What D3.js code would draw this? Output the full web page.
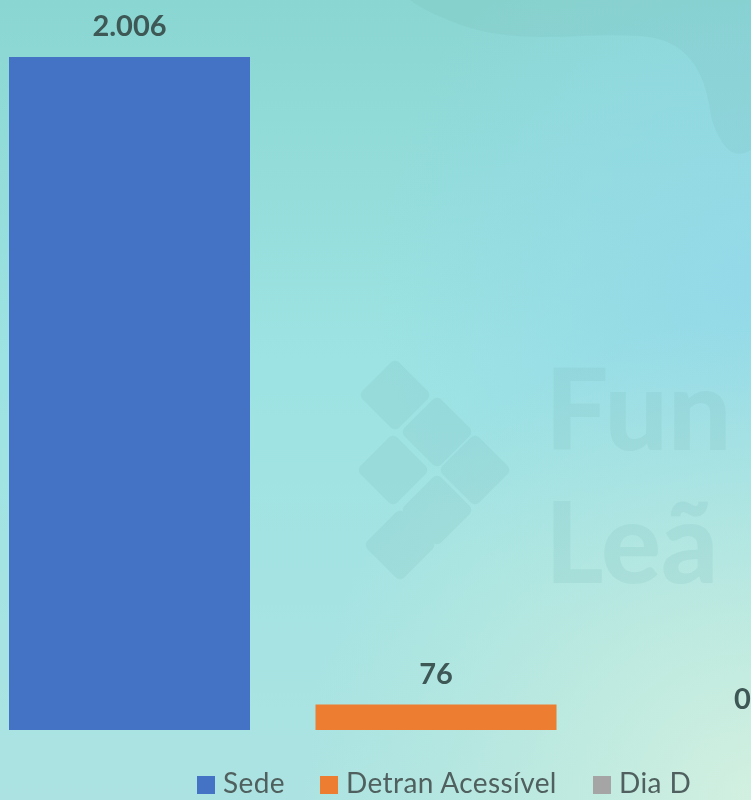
<!DOCTYPE html>
<html>
<head>
<meta charset="utf-8">
<script src="https://cdn.jsdelivr.net/npm/d3@7"></script>
<style>
  body { margin: 0; overflow: hidden; }
  svg { display: block; }
</style>
</head>
<body>
<svg id="chart" width="751" height="800"></svg>
<script>
// chart data
const categories = ["Sede", "Detran Acessível", "Dia D"];
const values = [2006, 76, 0];
const labels = ["2.006", "76", "0"];
const colors = ["#4472C4", "#ED7D31", "#A5A5A5"];

const svg = d3.select("#chart");
const width = 751, height = 800;

// background gradient
const defs = svg.append("defs");
const lg = defs.append("linearGradient").attr("id", "bg").attr("x1", 0).attr("y1", 0).attr("x2", 0).attr("y2", 1);
lg.append("stop").attr("offset", "0%").attr("stop-color", "#8ad6d2");
lg.append("stop").attr("offset", "45%").attr("stop-color", "#9de3e3");
lg.append("stop").attr("offset", "100%").attr("stop-color", "#ace3e2");
const rg = defs.append("radialGradient").attr("id", "glow")
  .attr("cx", 1).attr("cy", 1).attr("r", 0.6);
rg.append("stop").attr("offset", "0%").attr("stop-color", "#d2f0e0").attr("stop-opacity", 1);
rg.append("stop").attr("offset", "100%").attr("stop-color", "#c4ecdc").attr("stop-opacity", 0);
const rg2 = defs.append("radialGradient").attr("id", "blue")
  .attr("cx", 1).attr("cy", 0.35).attr("r", 0.5);
rg2.append("stop").attr("offset", "0%").attr("stop-color", "#93d9e8").attr("stop-opacity", 1);
rg2.append("stop").attr("offset", "100%").attr("stop-color", "#93d9e8").attr("stop-opacity", 0);

svg.append("rect").attr("width", width).attr("height", height).attr("fill", "url(#bg)");
svg.append("rect").attr("width", width).attr("height", height).attr("fill", "url(#blue)");
svg.append("rect").attr("width", width).attr("height", height).attr("fill", "url(#glow)");

// faint watermark
const wm = svg.append("g").attr("fill", "#7fbfbd").attr("opacity", 0.2);
[[395, 395], [437, 432], [393, 470], [475, 470], [437, 510], [400, 545]].forEach(function(p) {
  wm.append("rect").attr("x", -26).attr("y", -26).attr("width", 52).attr("height", 52).attr("rx", 6)
    .attr("transform", `translate(${p[0]},${p[1]}) rotate(45)`);
});
wm.append("text").attr("x", 545).attr("y", 450).text("Fun")
  .style("font-family", "Lato, sans-serif").style("font-weight", 900).style("font-size", "112px");
wm.append("text").attr("x", 545).attr("y", 583).text("Leã")
  .style("font-family", "Lato, sans-serif").style("font-weight", 900).style("font-size", "112px");
svg.append("path")
  .attr("d", "M410,0 L751,0 L751,150 C735,160 722,150 712,120 C706,80 695,40 640,36 C580,32 530,45 470,28 C440,18 420,8 410,0 Z")
  .attr("fill", "#6fa9a8").attr("opacity", 0.12);

// scales
const x = d3.scaleBand()
  .domain(categories)
  .range([9, 863])
  .paddingInner(0.2137)
  .paddingOuter(0);

const y = d3.scaleLinear()
  .domain([0, 2006])
  .range([730, 57]);

// bars
svg.selectAll("rect.bar")
  .data(categories)
  .enter()
  .append("rect")
  .attr("class", "bar")
  .attr("x", d => x(d))
  .attr("y", (d, i) => y(values[i]))
  .attr("width", x.bandwidth())
  .attr("height", (d, i) => y(0) - y(values[i]))
  .attr("fill", (d, i) => colors[i]);

// data labels
svg.selectAll("text.lbl")
  .data(categories)
  .enter()
  .append("text")
  .attr("class", "lbl")
  .attr("x", d => x(d) + x.bandwidth() / 2)
  .attr("y", (d, i) => y(values[i]) - 21)
  .attr("text-anchor", "middle")
  .style("font-family", "Lato, sans-serif")
  .style("font-weight", "bold")
  .style("font-size", "29px")
  .style("fill", "#3e5856")
  .text((d, i) => labels[i]);

// legend
const legendX = [197, 320, 593];
const legend = svg.append("g");
categories.forEach(function(c, i) {
  legend.append("rect")
    .attr("x", legendX[i])
    .attr("y", 776)
    .attr("width", 18)
    .attr("height", 18)
    .attr("fill", colors[i]);
  legend.append("text")
    .attr("x", legendX[i] + 26)
    .attr("y", 793)
    .style("font-family", "Lato, sans-serif")
    .style("font-size", "28px")
    .style("letter-spacing", "0.4px")
    .style("fill", "#4f605e")
    .text(c);
});
</script>
</body>
</html>
